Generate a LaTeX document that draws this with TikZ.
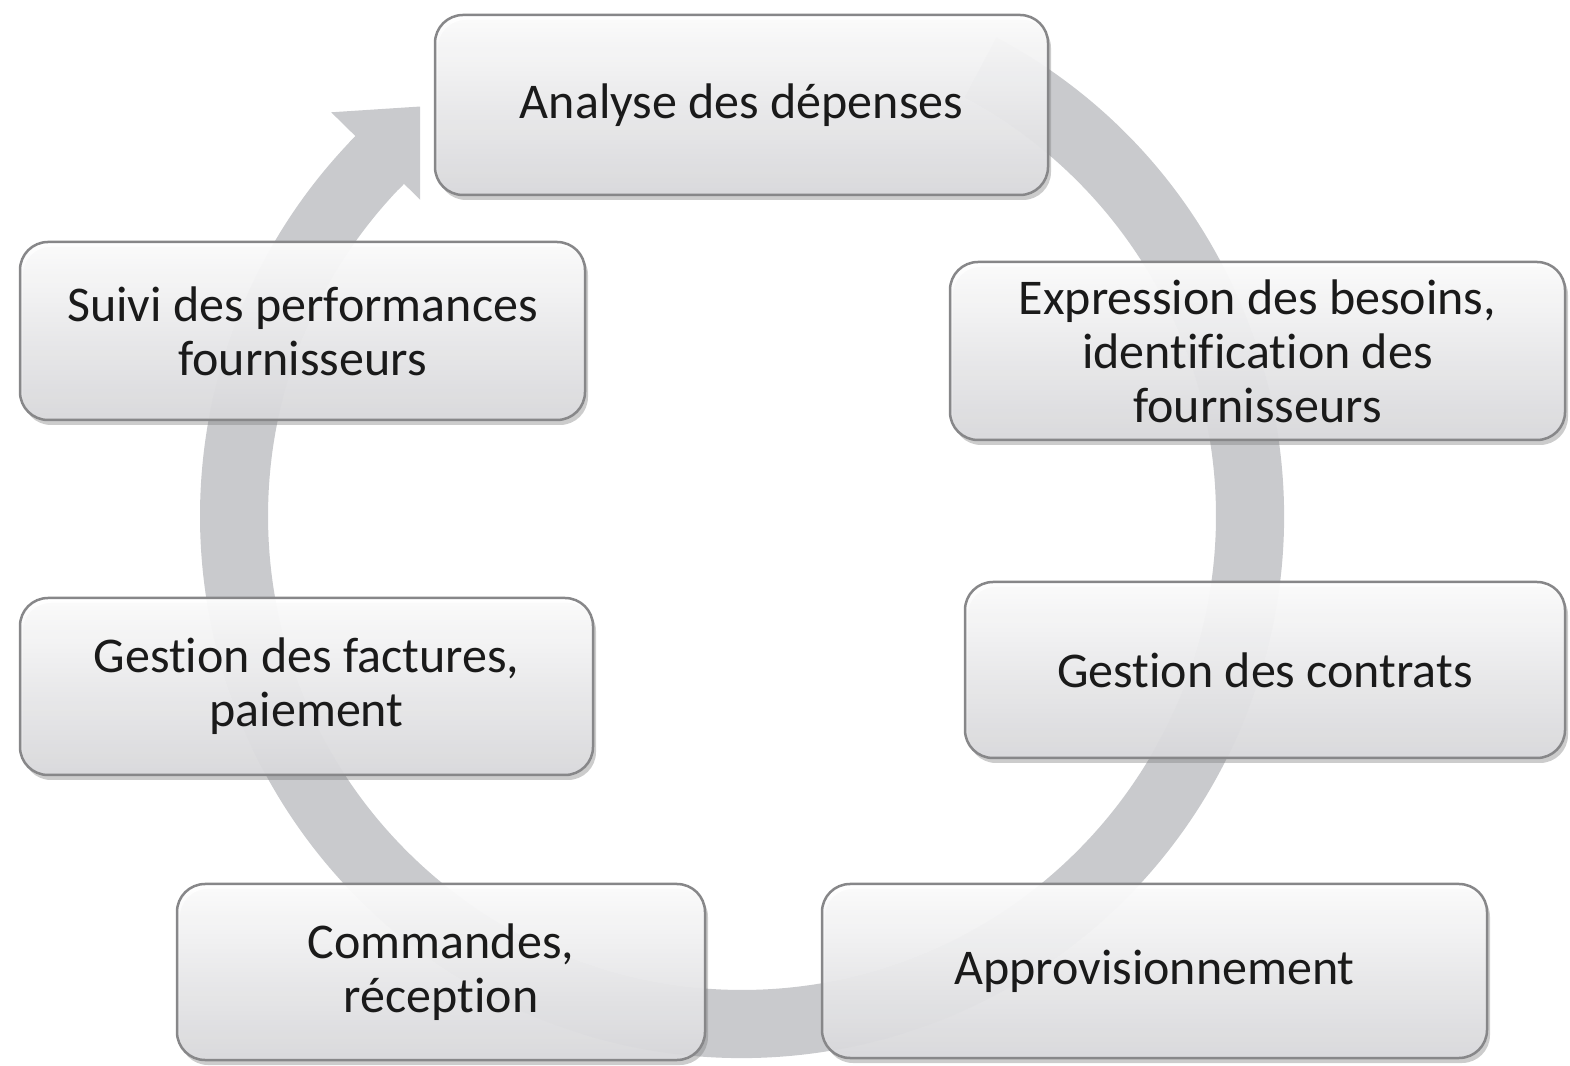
\documentclass[tikz,border=0pt]{standalone}
\usepackage{fontspec}
\setmainfont{Carlito}[RawFeature={-liga;-dlig;-clig}]
\usetikzlibrary{shadows}
\definecolor{ringgray}{RGB}{201,202,205}
\definecolor{boxedge}{RGB}{135,135,137}
\definecolor{boxlow}{RGB}{218,218,221}
\definecolor{txt}{RGB}{26,26,26}

\begin{document}
\begin{tikzpicture}[x=1pt, y=1pt,
    stage/.style={draw=boxedge, line width=2.5pt, rounded corners=28pt,
      top color=white, bottom color=boxlow, fill opacity=0.93, text opacity=1,
      drop shadow={shadow xshift=3pt, shadow yshift=-5pt, opacity=0.4},
      inner sep=0pt, align=center, text=txt,
      font=\fontsize{50}{54}\selectfont}]
  \useasboundingbox (0,0) rectangle (1570,1065);

  % Ring of the cycle, behind the boxes
  \begin{scope}[shift={(742,549)}]
    \fill[ringgray] (62:542) arc[start angle=62, end angle=-224.5, radius=542]
      -- (135.5:474) arc[start angle=-224.5, end angle=62, radius=474] -- cycle;
    % Arrow head, cut short before the first box
    \begin{scope}
      \clip (-742,-549) rectangle (-322,516);
      \fill[ringgray] (136.5:474) -- (136.5:542) -- (135.5:542) -- (135.5:576)
        -- (126:508) -- (135.5:441) -- (135.5:474) -- cycle;
    \end{scope}
  \end{scope}

  % Stages
  \node[stage, minimum width=613pt, minimum height=180pt] (analyse) at (741.5,960) {Analyse des dépenses};
  \node[stage, minimum width=615pt, minimum height=178pt] (besoins) at (1257.5,714) {Expression des besoins,\\identification des\\fournisseurs};
  \node[stage, minimum width=600pt, minimum height=176pt] (contrats) at (1265,395) {Gestion des contrats};
  \node[stage, minimum width=665pt, minimum height=174pt] (appro) at (1154.5,94) {Approvisionnement};
  \node[stage, minimum width=528pt, minimum height=176pt] (commandes) at (441,93) {Commandes,\\réception};
  \node[stage, minimum width=573pt, minimum height=177pt] (factures) at (306.5,378.5) {Gestion des factures,\\paiement};
  \node[stage, minimum width=565pt, minimum height=178pt] (suivi) at (302.5,734) {Suivi des performances\\fournisseurs};
\end{tikzpicture}
\end{document}
